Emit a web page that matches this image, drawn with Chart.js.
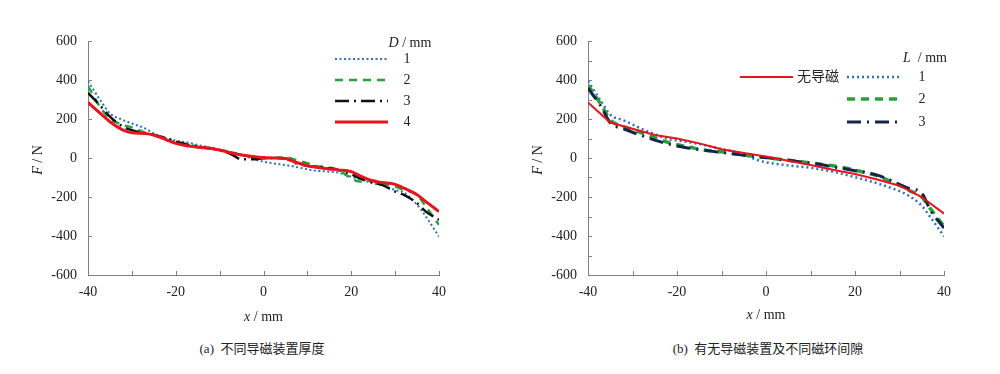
<!DOCTYPE html>
<html>
<head>
<meta charset="utf-8">
<script src="https://cdn.jsdelivr.net/npm/chart.js@4.4.1/dist/chart.umd.min.js"></script>
<style>
	body { margin: 0; background: #fff; width: 1000px; height: 374px; overflow: hidden; position: relative; font-family: "Liberation Serif", "Noto Sans CJK SC", serif; }
	.panel { position: absolute; top: 0; width: 500px; height: 330px; }
	.caption { position: absolute; top: 340px; width: 400px; font-size: 13px; line-height: 18px; color: #222; text-align: center; }
</style>
</head>
<body>
<div class="panel" style="left:0"><canvas id="chart-a"></canvas></div>
<div class="panel" style="left:500px"><canvas id="chart-b"></canvas></div>
<div class="caption" style="left:62px">(a)&nbsp; 不同导磁装置厚度</div>
<div class="caption" style="left:568px">(b)&nbsp; 有无导磁装置及不同磁环间隙</div>
<script>
// (a) force vs displacement for different guide thickness D
const xsA = [-40, -37, -35, -32, -30, -27, -25, -22, -20, -17, -15, -12, -10, -7, -5, -2, 0, 2, 5, 7, 10, 12, 15, 17, 20, 22, 25, 27, 30, 32, 35, 37, 40];
const thickD1 = [394, 290, 229, 195, 177, 152, 126, 101, 89, 78, 67, 53, 41, 29, 15, -7, -19, -27, -36, -44, -58, -65, -70, -75, -96, -109, -130, -140, -164, -177, -240, -300, -403];
const thickD2 = [369, 254, 203, 169, 157, 130, 118, 92, 84, 67, 58, 49, 41, 27, 15, 3, -2, 0, 3, -7, -27, -41, -48, -61, -104, -121, -116, -130, -147, -164, -189, -249, -343];
const thickD3 = [334, 263, 212, 160, 143, 126, 118, 101, 84, 67, 58, 49, 41, 15, -7, -7, 0, 0, -3, -24, -41, -44, -53, -61, -84, -104, -126, -138, -172, -189, -232, -275, -317];
const thickD4 = [285, 225, 186, 143, 130, 126, 118, 92, 75, 61, 55, 49, 41, 24, 15, 7, 2, 0, -3, -19, -39, -48, -56, -61, -70, -92, -118, -126, -135, -155, -189, -224, -275];

// (b) with / without guide, different ring gap L
const xsNone = [-40, -35, -30, -25, -20, -15, -10, -5, 0, 5, 10, 15, 20, 25, 30, 35, 40];
const noGuide = [285, 182, 150, 118, 100, 75, 45, 26, 8, -14, -36, -60, -82, -110, -142, -200, -285];
const xsB = [-40, -37, -35, -32, -30, -27, -25, -22, -20, -17, -15, -12, -10, -7, -5, -2, 0, 5, 10, 15, 20, 25, 30, 32, 35, 37, 40];
const gapL1 = [395, 288, 222, 193, 172, 140, 122, 98, 90, 80, 72, 57, 46, 32, 18, -10, -22, -38, -50, -70, -98, -130, -170, -192, -245, -305, -402];
const gapL2 = [373, 272, 195, 160, 145, 122, 104, 80, 68, 55, 45, 36, 32, 22, 16, 8, 2, -12, -25, -40, -62, -92, -140, -165, -200, -262, -351];
const gapL3 = [358, 262, 180, 150, 132, 108, 92, 72, 62, 50, 43, 34, 28, 20, 14, 7, 2, -12, -26, -45, -65, -88, -135, -155, -180, -270, -359];

const xTickValues = [-40, -20, 0, 20, 40];
const yTickValues = [-600, -400, -200, 0, 200, 400, 600];

const AXIS_COLOR = "#808080";
const TEXT_COLOR = "#222";
const SERIF = '"Liberation Serif", "Noto Sans CJK SC", serif';

const toPoints = (xs, ys) => xs.map((x, i) => ({ x: x, y: ys[i] }));

function mixedText(ctx, parts, cx, cy, rot, align) {
	ctx.save();
	ctx.translate(cx, cy);
	ctx.rotate(rot);
	ctx.textBaseline = "middle";
	ctx.textAlign = "left";
	ctx.fillStyle = TEXT_COLOR;
	const fonts = parts.map((p) => (p[1] ? "italic " : "") + "14px " + SERIF);
	const widths = parts.map((p, i) => {
		ctx.font = fonts[i];
		return ctx.measureText(p[0]).width;
	});
	const total = widths.reduce((s, w) => s + w, 0);
	let xx = align === "left" ? 0 : -total / 2;
	parts.forEach((p, i) => {
		ctx.font = fonts[i];
		ctx.fillText(p[0], xx, 0);
		xx += widths[i];
	});
	ctx.restore();
}

// inward ticks, axis titles and the in-plot legend
const decor = {
	id: "decor",
	afterDraw(chart, args, opts) {
		const { ctx, chartArea: a } = chart;
		const x = chart.scales.x;
		const y = chart.scales.y;
		ctx.save();
		ctx.strokeStyle = AXIS_COLOR;
		ctx.lineWidth = 1;
		for (let v = x.min; v <= x.max; v += opts.xMinor) {
			const px = Math.round(x.getPixelForValue(v)) + 0.5;
			ctx.beginPath();
			ctx.moveTo(px, a.bottom);
			ctx.lineTo(px, a.bottom - 4);
			ctx.stroke();
		}
		for (let v = y.min; v <= y.max; v += opts.yMinor) {
			const py = Math.round(y.getPixelForValue(v)) + 0.5;
			ctx.beginPath();
			ctx.moveTo(a.left, py);
			ctx.lineTo(a.left + 4, py);
			ctx.stroke();
		}

		mixedText(ctx, [["F", true], [" / N", false]], 38, (a.top + a.bottom) / 2 + 2, -Math.PI / 2);
		mixedText(ctx, [["x", true], [" / mm", false]], (a.left + a.right) / 2, opts.xTitleY);

		const lg = opts.legend;
		mixedText(ctx, lg.title, lg.titleX, lg.titleY);
		lg.rows.forEach((r) => {
			const ds = chart.data.datasets[r.ds];
			ctx.save();
			ctx.strokeStyle = ds.borderColor;
			ctx.lineWidth = ds.borderWidth;
			ctx.setLineDash(ds.borderDash || []);
			ctx.beginPath();
			ctx.moveTo(r.x1, r.y);
			ctx.lineTo(r.x2, r.y);
			ctx.stroke();
			ctx.restore();
			ctx.fillStyle = TEXT_COLOR;
			ctx.font = "14px " + SERIF;
			ctx.textBaseline = "middle";
			ctx.textAlign = r.align || "center";
			ctx.fillText(r.label, r.labelX, r.y);
		});
		ctx.restore();
	},
};

function makeOptions(padRight, decorOpts) {
	return {
		responsive: true,
		maintainAspectRatio: false,
		animation: false,
		layout: { padding: { top: 41, right: padRight, left: 0, bottom: 0 } },
		elements: { point: { radius: 0 } },
		plugins: {
			legend: { display: false },
			tooltip: { enabled: false },
			decor: decorOpts,
		},
		scales: {
			x: {
				type: "linear",
				min: -40,
				max: 40,
				afterBuildTicks: (s) => { s.ticks = xTickValues.map((v) => ({ value: v })); },
				afterFit: (s) => { s.height = 55; },
				grid: { display: false, drawTicks: false },
				border: { display: true, color: AXIS_COLOR, width: 1 },
				ticks: { color: TEXT_COLOR, padding: 9, maxRotation: 0, font: { family: SERIF, size: 14 } },
			},
			y: {
				min: -600,
				max: 600,
				afterBuildTicks: (s) => { s.ticks = yTickValues.map((v) => ({ value: v })); },
				afterFit: (s) => { s.width = 88; },
				grid: { display: false, drawTicks: false },
				border: { display: true, color: AXIS_COLOR, width: 1 },
				ticks: { color: TEXT_COLOR, padding: 11, font: { family: SERIF, size: 14 } },
			},
		},
	};
}

new Chart(document.getElementById("chart-a").getContext("2d"), {
	type: "line",
	data: {
		datasets: [
			{ label: "1", data: toPoints(xsA, thickD1), borderColor: "#2f6fc0", borderWidth: 2, borderDash: [2, 2.5], cubicInterpolationMode: "monotone", order: 3 },
			{ label: "2", data: toPoints(xsA, thickD2), borderColor: "#23a23a", borderWidth: 2.5, borderDash: [8, 6], cubicInterpolationMode: "monotone", order: 2 },
			{ label: "3", data: toPoints(xsA, thickD3), borderColor: "#111111", borderWidth: 2.5, borderDash: [14, 5, 2, 5], cubicInterpolationMode: "monotone", order: 1 },
			{ label: "4", data: toPoints(xsA, thickD4), borderColor: "#e8141c", borderWidth: 3, cubicInterpolationMode: "monotone", order: 0 },
		],
	},
	options: makeOptions(61, {
		xMinor: 10,
		yMinor: 200,
		xTitleY: 317,
		legend: {
			title: [["D", true], [" / mm", false]],
			titleX: 410,
			titleY: 43,
			rows: [
				{ ds: 0, x1: 335, x2: 388, y: 59, label: "1", labelX: 407 },
				{ ds: 1, x1: 335, x2: 388, y: 80, label: "2", labelX: 407 },
				{ ds: 2, x1: 335, x2: 388, y: 101, label: "3", labelX: 407 },
				{ ds: 3, x1: 335, x2: 388, y: 122, label: "4", labelX: 407 },
			],
		},
	}),
	plugins: [decor],
});

new Chart(document.getElementById("chart-b").getContext("2d"), {
	type: "line",
	data: {
		datasets: [
			{ label: "无导磁", data: toPoints(xsNone, noGuide), borderColor: "#e8141c", borderWidth: 2, tension: 0, order: 0 },
			{ label: "1", data: toPoints(xsB, gapL1), borderColor: "#2f6fc0", borderWidth: 2.5, borderDash: [2, 3], cubicInterpolationMode: "monotone", order: 3 },
			{ label: "2", data: toPoints(xsB, gapL2), borderColor: "#23a23a", borderWidth: 3.5, borderDash: [8, 6], cubicInterpolationMode: "monotone", order: 2 },
			{ label: "3", data: toPoints(xsB, gapL3), borderColor: "#17244a", borderWidth: 3, borderDash: [14, 6, 2, 6], cubicInterpolationMode: "monotone", order: 1 },
		],
	},
	options: makeOptions(56, {
		xMinor: 10,
		yMinor: 100,
		xTitleY: 315,
		legend: {
			title: [["L", true], ["  / mm", false]],
			titleX: 425,
			titleY: 58,
			rows: [
				{ ds: 0, x1: 240, x2: 293, y: 77, label: "无导磁", labelX: 297, align: "left" },
				{ ds: 1, x1: 347, x2: 400, y: 77, label: "1", labelX: 422 },
				{ ds: 2, x1: 347, x2: 400, y: 99, label: "2", labelX: 422 },
				{ ds: 3, x1: 347, x2: 400, y: 122, label: "3", labelX: 422 },
			],
		},
	}),
	plugins: [decor],
});
</script>
</body>
</html>
